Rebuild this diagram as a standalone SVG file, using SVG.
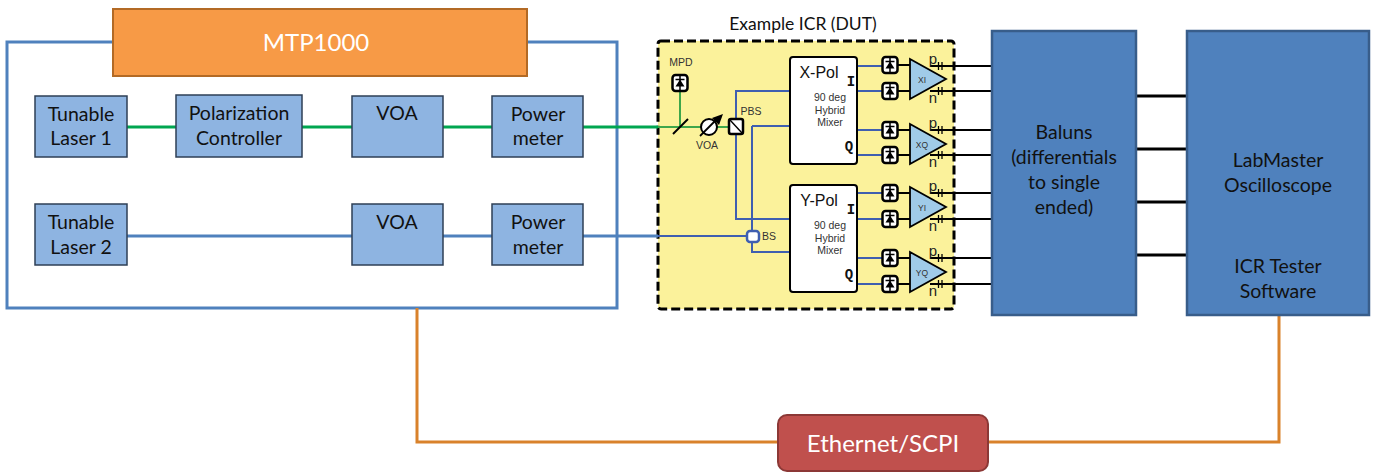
<svg xmlns="http://www.w3.org/2000/svg" width="1375" height="473" viewBox="0 0 1375 473">
<defs>
<style>
text{font-family:"Lato","Open Sans","Liberation Sans",sans-serif;text-anchor:middle}
.b{fill:#8EB4E1;stroke:#2E3F55;stroke-width:1.5}
.t{font-size:19.5px;fill:#111}
.big{fill:#4F81BD;stroke:#385D8A;stroke-width:2.5}
.s{font-family:"Liberation Sans",sans-serif;font-size:10.5px;fill:#333}
.a{font-family:"Liberation Sans",sans-serif;font-size:8.5px;fill:#333}
.pn{font-family:"Liberation Sans",sans-serif;font-size:15px;fill:#222}
.h{font-family:"Liberation Sans",sans-serif;font-size:16px;fill:#111}
.m{font-family:"Liberation Mono",monospace;font-size:14px;font-weight:bold;fill:#111}
.green{stroke:#00A650;stroke-width:3;fill:none}
.gthin{stroke:#3DA64A;stroke-width:2;fill:none}
.blue{stroke:#4F81BD;stroke-width:3;fill:none}
.bthin{stroke:#3F5FB0;stroke-width:2;fill:none}
.or{stroke:#D9822B;stroke-width:3;fill:none}
.k{stroke:#000;stroke-width:2;fill:none}
.k3{stroke:#000;stroke-width:3;fill:none}
.mix{fill:#fff;stroke:#000;stroke-width:2}
.amp{fill:#A0CBE8;stroke:#000;stroke-width:1.8}
.pdb{fill:#fff;stroke:#000;stroke-width:2.5}
</style>
<g id="pd">
<rect class="pdb" x="-7.5" y="-8" width="15" height="16" rx="3"/>
<path d="M-4.5 3.5L4.5 3.5L0 -3.5Z" fill="#000"/>
<path d="M-4.5 -3.5H4.5M0 -8V8" stroke="#000" stroke-width="1.5" fill="none"/>
</g>
<g id="ticks">
<path d="M-1.5 -4V4M2 -4V4" stroke="#000" stroke-width="1.3" fill="none"/>
</g>
</defs>

<rect id="outer-frame" x="7" y="42" width="610" height="266" fill="#fff" stroke="#4F81BD" stroke-width="3"/>

<g id="dut">
<rect x="658" y="41" width="296" height="268" rx="3" fill="#FBF29B" stroke="#000" stroke-width="3" stroke-dasharray="9 4"/>
<text x="803" y="30" font-size="17.5" fill="#111">Example ICR (DUT)</text>
</g>

<g id="connectors">
<path class="green" d="M127 127H176M302 127H352M443 127H492M583 127H658"/>
<path class="blue" d="M127 236H352M443 236H492M583 236H658"/>
<path class="gthin" d="M658 127H729M680 92V127"/>
<path class="bthin" d="M658 236H747M736 134V219H790M736 119V91H790M752 126H790M752 126V231M752 241V252H790"/>
<path class="bthin" d="M857 66H882M857 91H882M857 130H882M857 155H882M857 193H882M857 219H882M857 258H882M857 284H882"/>
<path class="k" d="M898 65H910M898 91H910M898 130H910M898 155H910M898 193H910M898 219H910M898 258H910M898 284H910"/>
<path class="k" d="M930 66H991M930 91H991M930 130H991M930 155H991M930 193H991M930 219H991M930 258H991M930 284H991"/>
<path class="k3" d="M1136 96H1187M1136 149H1187M1136 202H1187M1136 255H1187"/>
<path class="or" d="M417 308V442H778M988 442H1279V315"/>
<path d="M673 134L688 119" stroke="#000" stroke-width="2" fill="none"/>
</g>

<g id="mtp1000">
<rect x="113" y="9" width="414" height="67" fill="#F79A46" stroke="#B36A25" stroke-width="2"/>
<text x="316" y="51" font-size="24" fill="#fff">MTP1000</text>
</g>
<g id="laser1"><rect class="b" x="35" y="96" width="92" height="61"/><text class="t" x="81" y="121">Tunable</text><text class="t" x="81" y="145">Laser 1</text></g>
<g id="polctrl"><rect class="b" x="176" y="95" width="126" height="62"/><text class="t" x="239" y="120">Polarization</text><text class="t" x="239" y="145">Controller</text></g>
<g id="voa1"><rect class="b" x="352" y="96" width="91" height="61"/><text class="t" x="397" y="120">VOA</text></g>
<g id="pm1"><rect class="b" x="492" y="96" width="91" height="61"/><text class="t" x="538" y="121">Power</text><text class="t" x="538" y="145">meter</text></g>
<g id="laser2"><rect class="b" x="35" y="204" width="92" height="61"/><text class="t" x="81" y="229">Tunable</text><text class="t" x="81" y="254">Laser 2</text></g>
<g id="voa2"><rect class="b" x="352" y="204" width="91" height="61"/><text class="t" x="397" y="229">VOA</text></g>
<g id="pm2"><rect class="b" x="492" y="204" width="91" height="61"/><text class="t" x="538" y="229">Power</text><text class="t" x="538" y="254">meter</text></g>

<g id="mpd"><text class="s" x="681" y="66">MPD</text><use href="#pd" x="680" y="83"/></g>
<g id="voa-dut">
<circle cx="709" cy="127" r="8" fill="#fff" stroke="#000" stroke-width="2"/>
<path d="M700 136L718 118" stroke="#000" stroke-width="1.8"/>
<path d="M723 114L712 118L719 125Z" fill="#000"/>
<text class="s" x="707" y="149">VOA</text>
</g>
<g id="pbs">
<rect x="729" y="119" width="14" height="15" rx="2" fill="#fff" stroke="#000" stroke-width="2.5"/>
<path d="M730 120L742 133" stroke="#000" stroke-width="1.4"/>
<text class="s" x="751" y="115">PBS</text>
</g>
<g id="bs">
<rect x="747" y="231" width="12" height="11" rx="3" fill="#fff" stroke="#3F5FB0" stroke-width="2.5"/>
<text class="s" x="769" y="240">BS</text>
</g>

<g id="xpol">
<rect class="mix" x="790" y="57" width="67" height="107" rx="3"/>
<text class="h" x="819" y="78">X-Pol</text>
<text class="s" x="830" y="101">90 deg</text><text class="s" x="830" y="114">Hybrid</text><text class="s" x="830" y="126">Mixer</text>
<text class="m" x="851" y="86">I</text>
<text class="m" x="849" y="151">Q</text>
</g>
<g id="ypol">
<rect class="mix" x="790" y="185" width="67" height="107" rx="3"/>
<text class="h" x="819" y="206">Y-Pol</text>
<text class="s" x="830" y="229">90 deg</text><text class="s" x="830" y="242">Hybrid</text><text class="s" x="830" y="254">Mixer</text>
<text class="m" x="851" y="214">I</text>
<text class="m" x="849" y="279">Q</text>
</g>
<g id="pds">
<use href="#pd" x="890" y="65"/><use href="#pd" x="890" y="91"/><use href="#pd" x="890" y="130"/><use href="#pd" x="890" y="155"/>
<use href="#pd" x="890" y="193"/><use href="#pd" x="890" y="219"/><use href="#pd" x="890" y="258"/><use href="#pd" x="890" y="284"/>
</g>
<g id="amp-xi"><path class="amp" d="M910 59L946 79L910 99Z"/><text class="a" x="922" y="83">XI</text></g>
<g id="amp-xq"><path class="amp" d="M910 124L946 144L910 164Z"/><text class="a" x="922" y="148">XQ</text></g>
<g id="amp-yi"><path class="amp" d="M910 187L946 207L910 227Z"/><text class="a" x="922" y="211">YI</text></g>
<g id="amp-yq"><path class="amp" d="M910 252L946 272L910 292Z"/><text class="a" x="922" y="276">YQ</text></g>
<g id="pn">
<text class="pn" x="933" y="64">p</text><text class="pn" x="933" y="103">n</text>
<text class="pn" x="933" y="128">p</text><text class="pn" x="933" y="167">n</text>
<text class="pn" x="933" y="191">p</text><text class="pn" x="933" y="231">n</text>
<text class="pn" x="933" y="256">p</text><text class="pn" x="933" y="296">n</text>
<use href="#ticks" x="940" y="66"/><use href="#ticks" x="940" y="91"/><use href="#ticks" x="940" y="130"/><use href="#ticks" x="940" y="155"/>
<use href="#ticks" x="940" y="193"/><use href="#ticks" x="940" y="219"/><use href="#ticks" x="940" y="258"/><use href="#ticks" x="940" y="284"/>
</g>

<g id="baluns">
<rect class="big" x="992" y="31" width="144" height="284"/>
<text class="t" x="1064" y="139">Baluns</text><text class="t" x="1064" y="164">(differentials</text><text class="t" x="1064" y="189">to single</text><text class="t" x="1064" y="214">ended)</text>
</g>
<g id="labmaster">
<rect class="big" x="1187" y="31" width="182" height="284"/>
<text class="t" x="1278" y="167">LabMaster</text><text class="t" x="1278" y="192">Oscilloscope</text>
<text class="t" x="1278" y="273">ICR Tester</text><text class="t" x="1278" y="298">Software</text>
</g>
<g id="ethernet">
<rect x="778" y="415" width="210" height="56" rx="9" fill="#C0504D" stroke="#8C3836" stroke-width="2"/>
<text x="883" y="452" font-size="24" fill="#fff">Ethernet/SCPI</text>
</g>
</svg>
